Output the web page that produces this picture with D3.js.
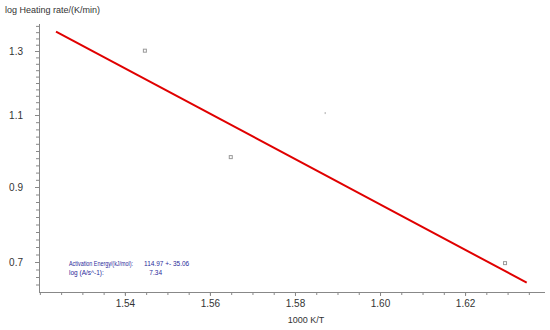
<!DOCTYPE html>
<html>
<head>
<meta charset="utf-8">
<script src="https://cdn.jsdelivr.net/npm/d3@7"></script>
<style>
  body { margin: 0; background: #fff; }
  text { font-family: "Liberation Sans", Arial, sans-serif; }
</style>
</head>
<body>
<div id="chart"></div>
<script>
// measured points: 1000/T vs log(heating rate)
var invT = [1.5447, 1.5649, 1.5871, 1.6294];
var logRate = [1.301, 0.983, 1.106, 0.697];
var marker = ["square", "square", "dot", "square"];

// fitted line end points
var fitX = [1.5238, 1.6345];
var fitY = [1.362, 0.645];

var xLabels = [1.54, 1.56, 1.58, 1.60, 1.62];
var yLabels = [0.7, 0.9, 1.1, 1.3];

var noteLines = [
    ["Activation Energy/(kJ/mol):", "114.97 +- 35.06"],
    ["log (A/s^-1):", "7.34"]
];

var width = 550, height = 330;

var svg = d3.select("#chart")
    .append("svg")
    .attr("width", width)
    .attr("height", height);

var x = d3.scaleLinear()
    .domain([1.5198, 1.6388])
    .range([39, 545]);

// the source picture's y axis is not evenly spaced, follow its tick positions
var y = d3.scaleLinear()
    .domain([0.62, 0.7, 0.9, 1.1, 1.3, 1.386])
    .range([292, 262, 187, 115, 51, 24]);

var axisColor = "#888";

// minor ticks
var xMinor = d3.range(1.52, 1.6385, 0.005);
var yMinor = d3.range(0.64, 1.385, 0.02);

var xAxis = svg.append("g")
    .attr("transform", "translate(0,292)")
    .call(d3.axisBottom(x).tickValues(xMinor).tickSize(3).tickFormat(""));
xAxis.select(".domain").attr("d", "M39,0.5H545");
xAxis.selectAll("line, path").attr("stroke", axisColor);

var xAxisLab = svg.append("g")
    .attr("transform", "translate(0,292)")
    .call(d3.axisBottom(x).tickValues(xLabels).tickSize(4).tickPadding(4).tickFormat(d3.format(".2f")));
xAxisLab.select(".domain").remove();
xAxisLab.selectAll("line").attr("stroke", axisColor);
xAxisLab.selectAll("text").attr("font-size", 10).attr("fill", "#333")
    .style("font-family", "Liberation Sans, Arial, sans-serif");

var yAxis = svg.append("g")
    .attr("transform", "translate(39,0)")
    .call(d3.axisLeft(y).tickValues(yMinor).tickSize(3).tickFormat(""));
yAxis.select(".domain").attr("d", "M0.5,24V292");
yAxis.selectAll("line, path").attr("stroke", axisColor);

var yAxisLab = svg.append("g")
    .attr("transform", "translate(39,0)")
    .call(d3.axisLeft(y).tickValues(yLabels).tickSize(4).tickPadding(12).tickFormat(d3.format(".1f")));
yAxisLab.select(".domain").remove();
yAxisLab.selectAll("line").attr("stroke", axisColor);
yAxisLab.selectAll("text").attr("font-size", 10).attr("fill", "#333")
    .style("font-family", "Liberation Sans, Arial, sans-serif");

// axis titles
svg.append("text")
    .attr("x", 5)
    .attr("y", 13)
    .attr("font-size", 9)
    .attr("fill", "#333")
    .text("log Heating rate/(K/min)");

svg.append("text")
    .attr("x", 306)
    .attr("y", 323)
    .attr("text-anchor", "middle")
    .attr("font-size", 9)
    .attr("fill", "#333")
    .text("1000 K/T");

// regression line
svg.append("line")
    .attr("x1", x(fitX[0]))
    .attr("y1", y(fitY[0]))
    .attr("x2", x(fitX[1]))
    .attr("y2", y(fitY[1]))
    .attr("stroke", "#e00000")
    .attr("stroke-width", 2);

// data points
var pts = invT.map((d, i) => ({x: d, y: logRate[i], m: marker[i]}));

svg.selectAll(".pt")
    .data(pts.filter(d => d.m === "square"))
    .enter()
    .append("rect")
    .attr("class", "pt")
    .attr("x", d => x(d.x) - 1.5)
    .attr("y", d => y(d.y) - 1.5)
    .attr("width", 3)
    .attr("height", 3)
    .attr("fill", "#fff")
    .attr("stroke", "#999")
    .attr("stroke-width", 1);

svg.selectAll(".dot")
    .data(pts.filter(d => d.m === "dot"))
    .enter()
    .append("rect")
    .attr("class", "dot")
    .attr("x", d => x(d.x) - 0.5)
    .attr("y", d => y(d.y) - 1)
    .attr("width", 1)
    .attr("height", 2)
    .attr("fill", "#aaa");

// fit result note
var note = svg.append("g").attr("fill", "#2a2a9a").attr("font-size", 6.5);
noteLines.forEach(function(r, i) {
    var lab = note.append("text")
        .attr("x", 69)
        .attr("y", 266 + i * 9)
        .text(r[0]);
    if (i === 0) lab.attr("textLength", 64).attr("lengthAdjust", "spacingAndGlyphs");
    note.append("text")
        .attr("x", i === 0 ? 144 : 162)
        .attr("y", 266 + i * 9)
        .attr("text-anchor", i === 0 ? "start" : "end")
        .text(r[1]);
});
</script>
</body>
</html>
